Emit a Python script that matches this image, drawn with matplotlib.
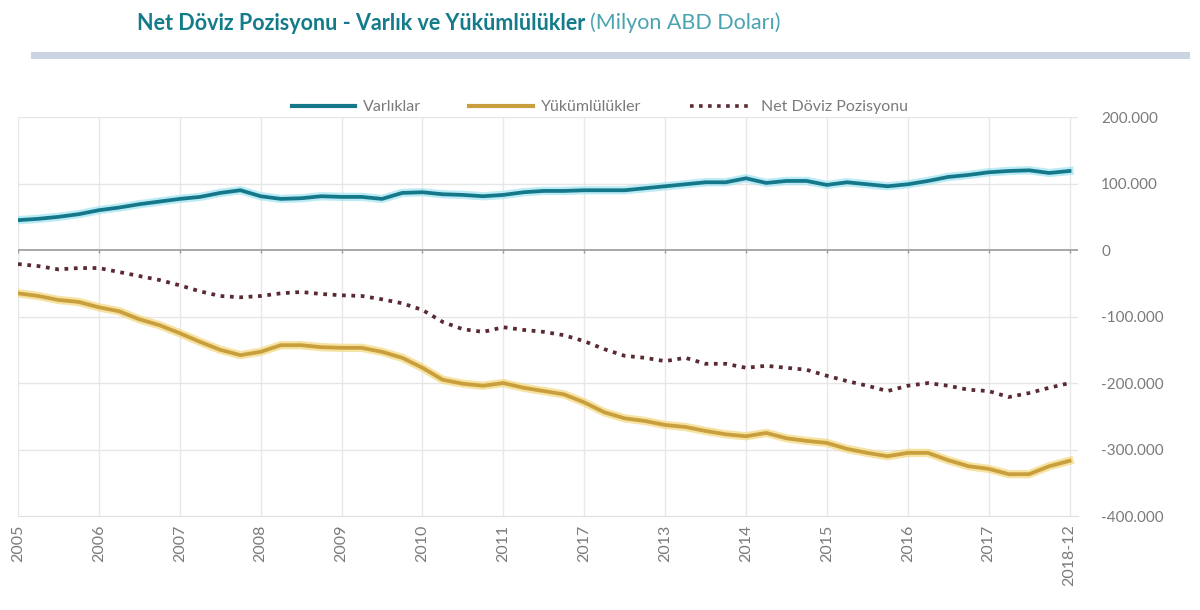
import matplotlib.pyplot as plt
import numpy as np
from matplotlib.lines import Line2D

plt.rcParams['font.family'] = ['Lato', 'DejaVu Sans']

# etiketler (kaynak grafikteki gibi)
yil_etiket = ["2005", "2006", "2007", "2008", "2009", "2010", "2011",
              "2017", "2013", "2014", "2015", "2016", "2017", "2018-12"]

# ceyreklik okunan degerler (milyon ABD dolari)
varliklar = [45000, 47000, 50000, 54000, 60000, 64000, 69000, 73000,
             77000, 80000, 86000, 90000, 81000, 77000, 78000, 81000,
             80000, 80000, 77000, 86000, 87000, 84000, 83000, 81000,
             83000, 87000, 89000, 89000, 90000, 90000, 90000, 93000,
             96000, 99000, 102000, 102000, 108000, 101000, 104000, 104000,
             98000, 102000, 99000, 96000, 99000, 104000, 110000, 113000,
             117000, 119000, 120000, 116000, 119000]

yukumlulukler = [-65000, -69000, -75000, -78000, -86000, -92000, -104000, -113000,
                 -125000, -138000, -150000, -158000, -153000, -143000, -143000, -146000,
                 -147000, -147000, -153000, -162000, -177000, -195000, -201000, -204000,
                 -200000, -207000, -212000, -217000, -229000, -244000, -253000, -257000,
                 -263000, -266000, -272000, -277000, -280000, -275000, -283000, -287000,
                 -290000, -299000, -305000, -310000, -305000, -305000, -316000, -325000,
                 -329000, -337000, -337000, -325000, -317000]

net_pozisyon = [-21000, -24000, -29000, -27000, -27000, -33000, -39000, -45000,
                -53000, -62000, -69000, -71000, -69000, -65000, -63000, -66000,
                -68000, -69000, -74000, -80000, -90000, -108000, -119000, -123000,
                -116000, -120000, -123000, -128000, -137000, -149000, -159000, -162000,
                -167000, -162000, -171000, -171000, -177000, -174000, -177000, -180000,
                -189000, -197000, -204000, -212000, -204000, -200000, -204000, -210000,
                -212000, -221000, -215000, -207000, -200000]

x = np.arange(len(varliklar)) / 4.0
xt = np.arange(len(yil_etiket))

teal = "#15778a"
gold = "#c99f3d"
maroon = "#5a2a33"
grey_txt = "#7a7a7a"

fig = plt.figure(figsize=(12, 6.1), dpi=100)
ax = fig.add_axes([0.015, 0.154, 0.883, 0.654])

# izgara
for t in xt:
    ax.axvline(t, color="#e8e8e8", lw=1, zorder=0)
for yv in range(-300000, 200001, 100000):
    if yv != 0:
        ax.axhline(yv, color="#e6e6e6", lw=1, zorder=0)
ax.axhline(0, color="#9a9a9a", lw=1.2, zorder=1)
ax.vlines(xt, -4000, 0, color="#9a9a9a", lw=1, zorder=1)

# hafif parlama + cizgiler
ax.plot(x, varliklar, color="#9fe3f0", lw=6, alpha=0.7, zorder=2)
ax.plot(x, varliklar, color=teal, lw=2.7, zorder=3)
ax.plot(x, yukumlulukler, color="#f3d77a", lw=6, alpha=0.7, zorder=2)
ax.plot(x, yukumlulukler, color=gold, lw=2.7, zorder=3)
ax.plot(x, net_pozisyon, color=maroon, lw=2.7, linestyle=(0, (1, 1.5)), zorder=3)

ax.set_xlim(0, 13.1)
ax.set_ylim(-400000, 200000)
ax.set_xticks(xt)
ax.set_xticklabels(yil_etiket, rotation=90, color=grey_txt, fontsize=11.5)
ax.yaxis.tick_right()
ax.set_yticks(range(-400000, 200001, 100000))
ax.set_yticklabels([f"{v:,}".replace(",", ".") for v in range(-400000, 200001, 100000)],
                   color=grey_txt, fontsize=11)
ax.tick_params(axis="x", length=0, pad=6)
ax.tick_params(axis="y", length=0, pad=17)
for s in ["left", "right", "top"]:
    ax.spines[s].set_visible(False)
ax.spines["bottom"].set_color("#e0e0e0")

# lejant
handles = [
    Line2D([0], [0], color=teal, lw=3, label="Varlıklar"),
    Line2D([0], [0], color=gold, lw=3, label="Yükümlülükler"),
    Line2D([0], [0], color=maroon, lw=2.6, linestyle=(0, (1, 1.5)), label="Net Döviz Pozisyonu"),
]
fig.legend(handles=handles, loc="center", bbox_to_anchor=(0.5, 0.824), ncol=3,
           frameon=False, fontsize=11.5, handlelength=4.0, handletextpad=0.5,
           columnspacing=3, labelcolor=grey_txt)

# baslik
t1 = fig.text(0.114, 0.962, "Net Döviz Pozisyonu - Varlık ve Yükümlülükler",
              fontsize=15.5, fontweight="bold", color="#147b8a", va="center")
fig.canvas.draw()
bb = t1.get_window_extent().transformed(fig.transFigure.inverted())
fig.text(bb.x1 + 0.004, 0.962, "(Milyon ABD Doları)", fontsize=15.5,
         color="#4aa3b0", va="center")

# baslik alti cubuk
fig.add_artist(Line2D([0.028, 0.988], [0.91, 0.91], color="#cbd4e2", lw=5,
                      transform=fig.transFigure))

fig.savefig("out.png", dpi=100)
